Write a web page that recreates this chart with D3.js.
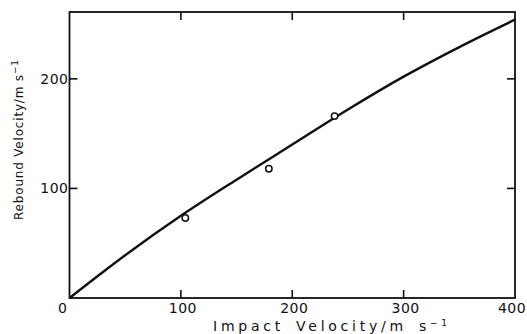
<!DOCTYPE html>
<html>
<head>
<meta charset="utf-8">
<script src="https://cdn.jsdelivr.net/npm/d3@7"></script>
<style>
  html, body { margin: 0; padding: 0; background: #fff; }
  svg { display: block; }
  text { font-family: "DejaVu Sans", sans-serif; fill: #111; }
</style>
</head>
<body>
<div id="chart"></div>
<script>
// Rebound velocity vs impact velocity

// curve
const curveImpact = [0, 50, 100, 150, 200, 250, 300, 350, 400];
const curveRebound = [0, 39, 75, 108, 140, 172, 202, 229, 254];

// measured points (open circles)
const pointImpact = [104, 179, 238];
const pointRebound = [73, 118, 166];

const xTicks = [100, 200, 300, 400];
const yTicks = [100, 200];

const width = 527, height = 334;
const margin = { top: 12, right: 12, bottom: 36, left: 69.5 };
const innerW = width - margin.left - margin.right;
const innerH = height - margin.top - margin.bottom;

const svg = d3.select('#chart')
    .append('svg')
    .attr('width', width)
    .attr('height', height);

const g = svg.append('g')
    .attr('transform', `translate(${margin.left},${margin.top})`);

const x = d3.scaleLinear().domain([0, 400]).range([0, innerW]);
const y = d3.scaleLinear().domain([0, 261]).range([innerH, 0]);

// frame
g.append('rect')
    .attr('width', innerW)
    .attr('height', innerH)
    .attr('fill', 'none')
    .attr('stroke', '#111')
    .attr('stroke-width', 1.8);

// inward ticks on all four sides
const tickLen = 8;
const tickStyle = sel => sel.attr('stroke', '#111').attr('stroke-width', 1.6);

g.append('g').selectAll('line').data(xTicks.filter(d => d < 400)).enter().append('line')
    .attr('x1', d => x(d)).attr('x2', d => x(d))
    .attr('y1', innerH).attr('y2', innerH - tickLen)
    .call(tickStyle);
g.append('g').selectAll('line').data(xTicks.filter(d => d < 400)).enter().append('line')
    .attr('x1', d => x(d)).attr('x2', d => x(d))
    .attr('y1', 0).attr('y2', tickLen)
    .call(tickStyle);
g.append('g').selectAll('line').data(yTicks).enter().append('line')
    .attr('x1', 0).attr('x2', tickLen)
    .attr('y1', d => y(d)).attr('y2', d => y(d))
    .call(tickStyle);
g.append('g').selectAll('line').data(yTicks).enter().append('line')
    .attr('x1', innerW).attr('x2', innerW - tickLen)
    .attr('y1', d => y(d)).attr('y2', d => y(d))
    .call(tickStyle);

// tick labels (last one pulled in so it stays on the page)
g.append('g').selectAll('text').data(xTicks).enter().append('text')
    .attr('x', d => d === 400 ? x(d) - 3 : x(d) + 2)
    .attr('y', innerH + 15)
    .attr('text-anchor', 'middle')
    .attr('font-size', '14px')
    .attr('letter-spacing', '0.5px')
    .text(d => d);

g.append('g').selectAll('text').data(yTicks).enter().append('text')
    .attr('x', -1)
    .attr('y', d => y(d) + 5)
    .attr('text-anchor', 'end')
    .attr('font-size', '14px')
    .attr('letter-spacing', '0.5px')
    .text(d => d);

// shared origin label
g.append('text')
    .attr('x', -7)
    .attr('y', innerH + 15)
    .attr('text-anchor', 'middle')
    .attr('font-size', '14px')
    .text('0');

// curve
const curveData = curveImpact.map((v, i) => ({ x: v, y: curveRebound[i] }));
const line = d3.line()
    .x(d => x(d.x))
    .y(d => y(d.y))
    .curve(d3.curveMonotoneX);

g.append('path')
    .datum(curveData)
    .attr('d', line)
    .attr('fill', 'none')
    .attr('stroke', '#111')
    .attr('stroke-width', 2.4);

// data points
const pts = pointImpact.map((v, i) => ({ x: v, y: pointRebound[i] }));
g.append('g').selectAll('circle').data(pts).enter().append('circle')
    .attr('cx', d => x(d.x))
    .attr('cy', d => y(d.y))
    .attr('r', 3.2)
    .attr('fill', '#fff')
    .attr('stroke', '#111')
    .attr('stroke-width', 1.5);

// axis titles
const xTitle = svg.append('text')
    .attr('x', 330)
    .attr('y', 331)
    .attr('text-anchor', 'middle')
    .attr('font-size', '14px')
    .attr('word-spacing', '4px')
    .attr('textLength', 234)
    .attr('lengthAdjust', 'spacing');
xTitle.append('tspan').text('Impact Velocity/m s');
xTitle.append('tspan').attr('dy', -5).attr('font-size', '9px').text('−1');

const yTitle = svg.append('text')
    .attr('transform', 'translate(23,140) rotate(-90)')
    .attr('text-anchor', 'middle')
    .attr('font-size', '12px')
    .attr('textLength', 160)
    .attr('lengthAdjust', 'spacing');
yTitle.append('tspan').text('Rebound Velocity/m s');
yTitle.append('tspan').attr('dy', -5).attr('font-size', '9px').text('−1');
</script>
</body>
</html>
